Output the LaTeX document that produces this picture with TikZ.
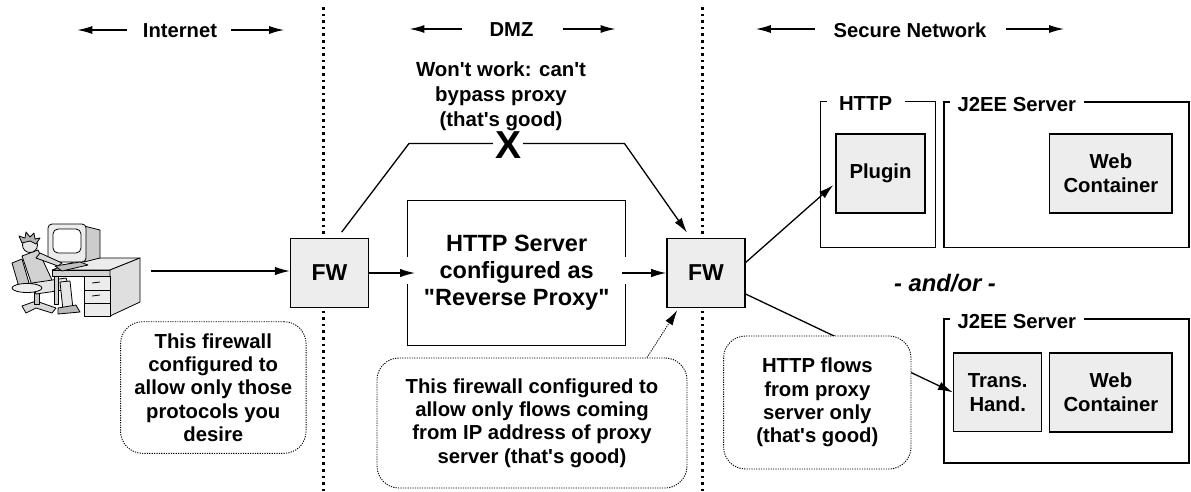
\documentclass[tikz,border=0pt]{standalone}
\usepackage{fontspec}
\setmainfont{Liberation Sans}[Ligatures=TeXOff]
\usetikzlibrary{arrows.meta,calc}
\definecolor{boxfill}{HTML}{EDEDED}
\newcommand\fsize[2]{\fontsize{#1}{#2}\selectfont}

\begin{document}
\begin{tikzpicture}[x=1pt,y=-1pt,
  hdr/.style={font=\bfseries\fsize{20.2}{24}, inner sep=0pt},
  fwbox/.style={draw, line width=1.4pt, fill=boxfill, minimum width=78pt,
    minimum height=69.4pt, font=\bfseries\fsize{23}{27}},
  inbox/.style={draw, line width=1.3pt, fill=boxfill, align=center,
    font=\bfseries\fsize{20.3}{24}},
  group/.style={draw, line width=1.3pt},
  grouplbl/.style={fill=white, anchor=west, inner ysep=1pt,
    font=\bfseries\fsize{20.3}{24}},
  callout/.style={draw, line width=0.9pt, dash pattern=on 1.2pt off 1.2pt,
    rounded corners=22pt, fill=white, align=center,
    font=\bfseries\fsize{20.3}{23.3}},
  flow/.style={line width=1.3pt, -{Latex[length=15pt,width=8.5pt]}},
  hint/.style={line width=0.9pt, dash pattern=on 1.2pt off 1.2pt,
    -{Latex[length=15pt,width=8.5pt]}},
  harrow/.style={line width=1.4pt, -{Latex[length=15pt,width=8pt]}},
  zone/.style={line width=2.6pt, dash pattern=on 2.6pt off 4pt},
  art/.style={draw, line width=0.8pt, line join=round},
]
\useasboundingbox (0,0) rectangle (1191,491);

% zone separators
\draw[zone] (323.3,7) -- (323.3,491);
\draw[zone] (702.7,7) -- (702.7,491);

% zone headers
\node[hdr] (inet) at (180,31) {Internet};
\node[hdr] (dmz) at (511.5,30) {DMZ};
\node[hdr] (secnet) at (910,30) {Secure Network};
\draw[harrow] ([xshift=-15.5pt,yshift=1pt]inet.west) -- ++(-50,0);
\draw[harrow] ([xshift=14pt,yshift=1pt]inet.east) -- ++(53,0);
\draw[harrow] ([xshift=-27pt,yshift=1pt]dmz.west) -- ++(-53,0);
\draw[harrow] ([xshift=29pt,yshift=1pt]dmz.east) -- ++(53,0);
\draw[harrow] ([xshift=-18.7pt,yshift=1pt]secnet.west) -- ++(-59,0);
\draw[harrow] ([xshift=19pt,yshift=1pt]secnet.east) -- ++(58.6,0);

% client workstation
\coordinate (client) at (151,271);
\begin{scope}[art]
  % chair
  \filldraw[fill=gray!45] (12,263) -- (22,259) -- (29,283) -- (19,287) -- cycle;
  \filldraw[fill=gray!30] (22,306) -- (36,301) -- (56,308) -- (52,313) -- (36,308) -- (26,313) -- cycle;
  \filldraw[fill=gray!45] (34,290) rectangle (39,304);
  % person
  \filldraw[fill=gray!35] (22,256) -- (38,250) -- (52,280) -- (34,291) -- cycle;
  \filldraw[fill=gray!20] (32,283) -- (66,278) -- (70,289) -- (36,294) -- cycle;
  \filldraw[fill=gray!20] (60,282) -- (70,281) -- (73,309) -- (63,310) -- cycle;
  \filldraw[fill=gray!55] (58,308) -- (76,305) -- (80,312) -- (58,314) -- cycle;
  \filldraw[fill=gray!20] (30,245) circle (7.5);
  \filldraw[fill=gray!60] (22,243) -- (19,236) -- (25,238) -- (26,232) -- (30,237) -- (34,233) -- (35,239) -- (40,238) -- (36,244) -- (30,241) -- cycle;
  \filldraw[fill=boxfill] (27,288) ellipse (15 and 4.5);
  % desk
  \filldraw[fill=gray!15] (52,270) -- (110,270) -- (140,258) -- (84,258) -- cycle;
  \filldraw[fill=gray!35] (52,270) rectangle (110,276);
  \filldraw[fill=gray!25] (110,270) -- (140,258) -- (140,302) -- (110,316) -- cycle;
  \filldraw[fill=gray!15] (84,276) rectangle (110,316);
  \draw (84,290) -- (110,290) (84,303) -- (110,303);
  \draw (92,283) -- (100,282) (92,296) -- (100,295);
  \filldraw[fill=gray!35] (54,276) rectangle (58,304);
  % monitor
  \filldraw[fill=gray!40] (84,226) -- (100,230) -- (100,258) -- (84,262) -- cycle;
  \filldraw[fill=gray!15, rounded corners=4pt] (48,224) rectangle (86,262);
  \filldraw[fill=white, rounded corners=5pt] (53,229) rectangle (81,253);
  % keyboard and arm
  \filldraw[fill=gray!50] (55,266) -- (80,262) -- (88,265) -- (62,271) -- cycle;
  \filldraw[fill=gray!30] (36,258) -- (58,266) -- (62,263) -- (40,253) -- cycle;
\end{scope}

% firewalls and proxy
\node[fwbox] (fw1) at (329.5,273) {FW};
\node[fwbox] (fw2) at (705.9,273) {FW};
\node[draw, line width=1.4pt, minimum width=218pt, minimum height=145pt,
  align=center, font=\bfseries\fsize{23.5}{27}] (proxy) at (516.7,273.2)
  {HTTP Server\\configured as\\"Reverse Proxy"};
% openings where the flows pass through the proxy box
\draw[white, line width=3pt] ($(proxy.west)+(0,-16)$) -- ($(proxy.west)+(0,11)$);
\draw[white, line width=3pt] ($(proxy.east)+(0,-16)$) -- ($(proxy.east)+(0,11)$);

% secure network servers
\node[group, minimum width=115pt, minimum height=145.6pt] (httpgrp) at (878,174.5) {};
\node[grouplbl, inner xsep=12.5pt] at ($(httpgrp.north west)+(6.5,2.8)$) {HTTP};
\node[group, minimum width=245pt, minimum height=145.3pt] (j2a) at (1066.5,174.6) {};
\node[grouplbl, inner xsep=7.5pt] at ($(j2a.north west)+(6.5,2.8)$) {J2EE Server};
\node[group, minimum width=245pt, minimum height=144pt] (j2b) at (1066.5,391) {};
\node[grouplbl, inner xsep=7.5pt] at ($(j2b.north west)+(6.5,2.8)$) {J2EE Server};
\node[inbox, minimum width=89pt, minimum height=79pt] (plugin) at (880.5,173.5) {Plugin};
\node[inbox, minimum width=122.3pt, minimum height=79pt] (weba) at (1110.9,173.5) {Web\\Container};
\node[inbox, minimum width=88.2pt, minimum height=78.7pt] (trans) at (997.7,392.4) {Trans.\\Hand.};
\node[inbox, minimum width=122.3pt, minimum height=79pt] (webb) at (1110.9,392.5) {Web\\Container};
\node[font=\bfseries\itshape\fsize{23.8}{28}] (andor) at (945,283) {- and/or -};

% bypass attempt
\node[font=\bfseries\fsize{20.4}{25}, align=center, inner ysep=0pt] (nowork) at (501,96)
  {Won't work: can't\\bypass proxy\\(that's good)};
\node[font=\bfseries\fsize{39}{39}, inner xsep=2pt, inner ysep=0pt] (xmark) at (508,145) {X};
\coordinate (byl) at (409,143.5);
\coordinate (byr) at (624.5,143.5);
\draw[line width=1.3pt] ($(fw1.north)+(12.2,-5.5)$) -- (byl) -- (byl -| xmark.west);
\draw[flow] (byr -| xmark.east) -- (byr) -- ($(fw2.north)+(-18.9,-5)$);

% flows
\draw[flow] (client) -- (client -| fw1.west);
\draw[flow] (fw1.east) -- ($(fw1.east -| proxy.west)+(8,0)$);
\draw[flow] ($(fw2.west -| proxy.east)+(-4,0)$) -- (fw2.west);
\draw[flow] ($(fw2.east)+(0,-10.5)$) -- ($(plugin.west)+(-2,11.5)$);
\draw[flow] ($(fw2.east)+(0,21)$) -- (trans.west);

% notes
\node[callout, minimum width=185.5pt, minimum height=131.6pt] (note1) at (213.3,387.5)
  {This firewall\\configured to\\allow only those\\protocols you\\desire};
\node[callout, minimum width=310pt, minimum height=130pt] (note2) at (532,423)
  {This firewall configured to\\allow only flows coming\\from IP address of proxy\\server (that's good)};
\node[callout, minimum width=187.4pt, minimum height=133pt] (note3) at (817.3,402.5)
  {HTTP flows\\from proxy\\server only\\(that's good)};
\draw[hint] ($(note2.north)+(115,0)$) -- ($(fw2.south)+(-28.7,2)$);
\end{tikzpicture}
\end{document}
